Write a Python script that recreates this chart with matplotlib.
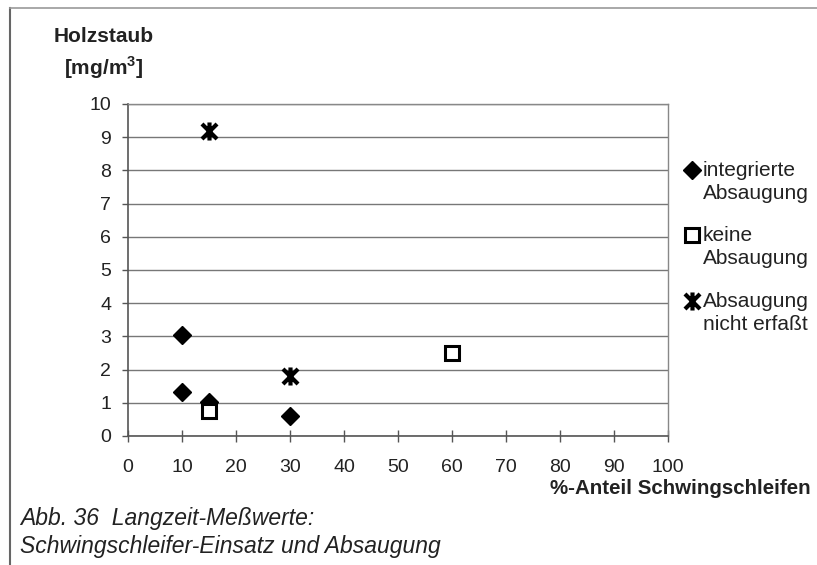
import matplotlib
matplotlib.use("Agg")
import matplotlib.pyplot as plt
from matplotlib.path import Path
from matplotlib.lines import Line2D

plt.rcParams['font.family'] = ['Liberation Sans', 'DejaVu Sans']

# data
integ_x = [10, 10, 15, 30]
integ_y = [3.05, 1.32, 1.02, 0.6]
keine_x = [15, 60]
keine_y = [0.75, 2.5]
nicht_x = [15, 30]
nicht_y = [9.2, 1.8]
labels = ["integrierte\nAbsaugung", "keine\nAbsaugung", "Absaugung\nnicht erfaßt"]
xticks = [0, 10, 20, 30, 40, 50, 60, 70, 80, 90, 100]
yticks = [0, 1, 2, 3, 4, 5, 6, 7, 8, 9, 10]

W, H = 817, 565
fig = plt.figure(figsize=(W / 100, H / 100), dpi=100)
ax = fig.add_axes([128 / W, 1 - 436 / H, (668 - 128) / W, (436 - 104) / H])

# asterisk marker: X plus vertical line
star = Path([(-0.5, -0.5), (0.5, 0.5), (-0.5, 0.5), (0.5, -0.5), (0, -0.6), (0, 0.6)],
            [Path.MOVETO, Path.LINETO, Path.MOVETO, Path.LINETO, Path.MOVETO, Path.LINETO])

ax.plot(integ_x, integ_y, ls='none', marker='D', ms=9, color='black', clip_on=False, zorder=3)
ax.plot(keine_x, keine_y, ls='none', marker='s', ms=10, mfc='white', mec='black', mew=2.2,
        clip_on=False, zorder=4)
ax.plot(nicht_x, nicht_y, ls='none', marker=star, ms=13, mfc='none', mec='black', mew=3,
        clip_on=False, zorder=3)

ax.set_xlim(0, 100)
ax.set_ylim(0, 10)
ax.set_xticks(xticks)
ax.set_yticks(yticks)
ax.set_xticklabels([str(v) for v in xticks], fontsize=14, color='#222222')
ax.set_yticklabels([str(v) for v in yticks], fontsize=14, color='#222222')
ax.tick_params(axis='y', direction='out', length=4, width=1, color='#555555', pad=8)
ax.tick_params(axis='x', direction='inout', length=9, width=1, color='#555555', pad=12)
ax.yaxis.grid(True, color='#777777', linewidth=1)
ax.set_axisbelow(True)
for s in ['left', 'bottom']:
    ax.spines[s].set_color('#555555')
    ax.spines[s].set_linewidth(1.2)
for s in ['top', 'right']:
    ax.spines[s].set_color('#888888')
    ax.spines[s].set_linewidth(1)

# axis titles
fig.text(104 / W, 1 - 37 / H, "Holzstaub", fontsize=15, fontweight='bold',
         ha='center', va='center', color='#222222')
fig.text(104 / W, 1 - 68 / H, "[mg/m$^\\mathregular{3}$]", fontsize=15, fontweight='bold',
         ha='center', va='center', color='#222222')
fig.text(811 / W, 1 - 489 / H, "%-Anteil Schwingschleifen", fontsize=14.8, fontweight='bold',
         ha='right', va='center', color='#222222')

# legend (manual)
leg_markers = [dict(marker='D', ms=9, mfc='black', mec='black', mew=1),
               dict(marker='s', ms=10, mfc='white', mec='black', mew=2.2),
               dict(marker=star, ms=13, mfc='none', mec='black', mew=3)]
leg_y = [170, 235, 301]
for lab, mk, yy in zip(labels, leg_markers, leg_y):
    fig.add_artist(Line2D([692 / W], [1 - yy / H], ls='none', color='black',
                          transform=fig.transFigure, **mk))
    fig.text(703 / W, 1 - (yy - 9) / H, lab, fontsize=15, ha='left', va='top',
             linespacing=1.25, color='#222222')

# caption
fig.text(20 / W, 1 - 518 / H, "Abb. 36  Langzeit-Meßwerte:", fontsize=16.5, style='italic',
         ha='left', va='center', color='#222222')
fig.text(20 / W, 1 - 547 / H, "Schwingschleifer-Einsatz und Absaugung", fontsize=16.5,
         style='italic', ha='left', va='center', color='#222222')

# frame lines
fig.add_artist(Line2D([10 / W, 10 / W], [0, 1 - 8 / H], color='#666666', lw=1.5,
                      transform=fig.transFigure))
fig.add_artist(Line2D([10 / W, 1], [1 - 8 / H, 1 - 8 / H], color='#999999', lw=1.2,
                      transform=fig.transFigure))

fig.savefig("out.png", dpi=100)
